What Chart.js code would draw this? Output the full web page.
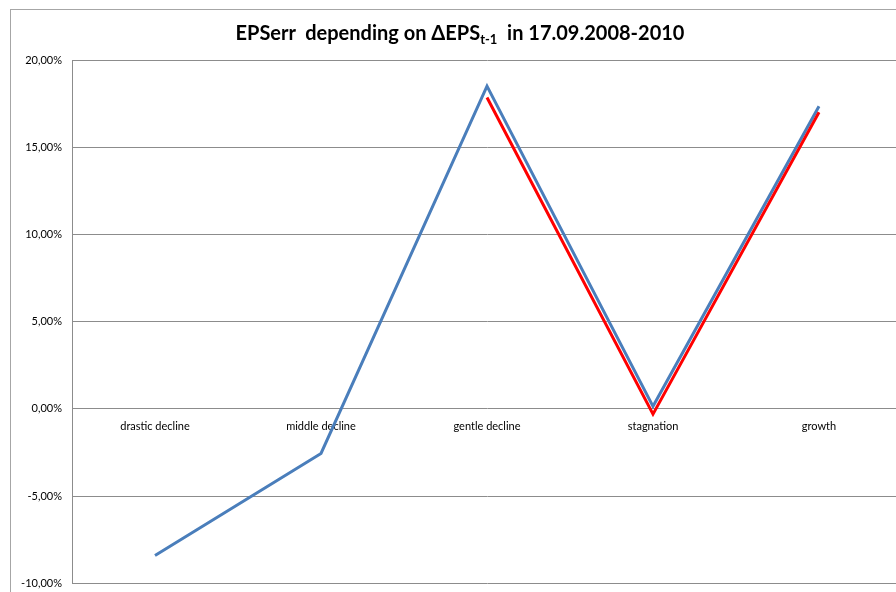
<!DOCTYPE html>
<html lang="en">
<head>
<meta charset="UTF-8">
<title>EPSerr depending on ΔEPS t-1</title>
<style>
  html, body { margin: 0; overflow: hidden; background: #fff; font-family: Lato, sans-serif; width: 896px; height: 592px; }
  .edge { position: absolute; background: #a6a6a6; }
  #edgeTop { left: 10px; top: 9px; width: 886px; height: 1px; }
  #edgeLeft { left: 10px; top: 9px; width: 1px; height: 583px; }
  #title { position: absolute; left: 0; top: 21px; width: 920px; text-align: center; font-weight: bold; font-size: 20px; line-height: 22px; color: #000; white-space: pre; }
  #title sub { font-size: 13px; line-height: 0; vertical-align: -4px; }
  #wrap { position: absolute; left: 0; top: 0; width: 896px; height: 592px; overflow: hidden; }
</style>
<script src="https://cdn.jsdelivr.net/npm/chart.js"></script>
</head>
<body>
<div id="wrap"><canvas id="chart" width="910" height="600"></canvas></div>
<div class="edge" id="edgeTop"></div>
<div class="edge" id="edgeLeft"></div>
<div id="title">EPSerr  depending on ΔEPS<sub>t-1</sub>  in 17.09.2008-2010</div>
<script>
// categories and series (values in percent)
const categories = ['drastic decline', 'middle decline', 'gentle decline', 'stagnation', 'growth'];
const blueValues = [-8.4, -2.55, 18.5, 0.15, 17.35];
const redValues = [null, null, 17.85, -0.3, 17.0];
const yMin = -10;
const yMax = 20;
const yStep = 5;

const tickFont = { family: 'Lato', size: 11 };

new Chart(document.getElementById('chart'), {
    type: 'line',
    data: {
        labels: categories,
        datasets: [
            {
                label: 'series 2',
                data: redValues,
                borderColor: '#ff0000',
                borderWidth: 3,
                pointRadius: 0,
                tension: 0,
                order: 0
            },
            {
                label: 'series 1',
                data: blueValues,
                borderColor: '#4a7ebb',
                borderWidth: 3,
                pointRadius: 0,
                tension: 0,
                order: 1
            }
        ]
    },
    options: {
        responsive: false,
        animation: false,
        layout: { padding: { top: 60, bottom: 1, left: 0, right: 8 } },
        plugins: {
            legend: { display: false },
            title: { display: false },
            tooltip: { enabled: false }
        },
        scales: {
            x: {
                type: 'category',
                offset: true,
                position: { y: 0 },
                grid: { display: false, drawTicks: false, offset: true },
                border: { display: false },
                ticks: { padding: 11, font: tickFont, color: '#000', maxRotation: 0, autoSkip: false },
                afterFit: (s) => { s.height = 0; }
            },
            y: {
                min: yMin,
                max: yMax,
                grid: { color: '#8c8c8c', drawTicks: false },
                border: { color: '#8c8c8c' },
                ticks: {
                    stepSize: yStep,
                    padding: 10,
                    font: tickFont,
                    color: '#000',
                    callback: (v) => v.toFixed(2).replace('.', ',') + '%'
                },
                afterFit: (s) => { s.width = 72; }
            }
        }
    }
});
</script>
</body>
</html>
